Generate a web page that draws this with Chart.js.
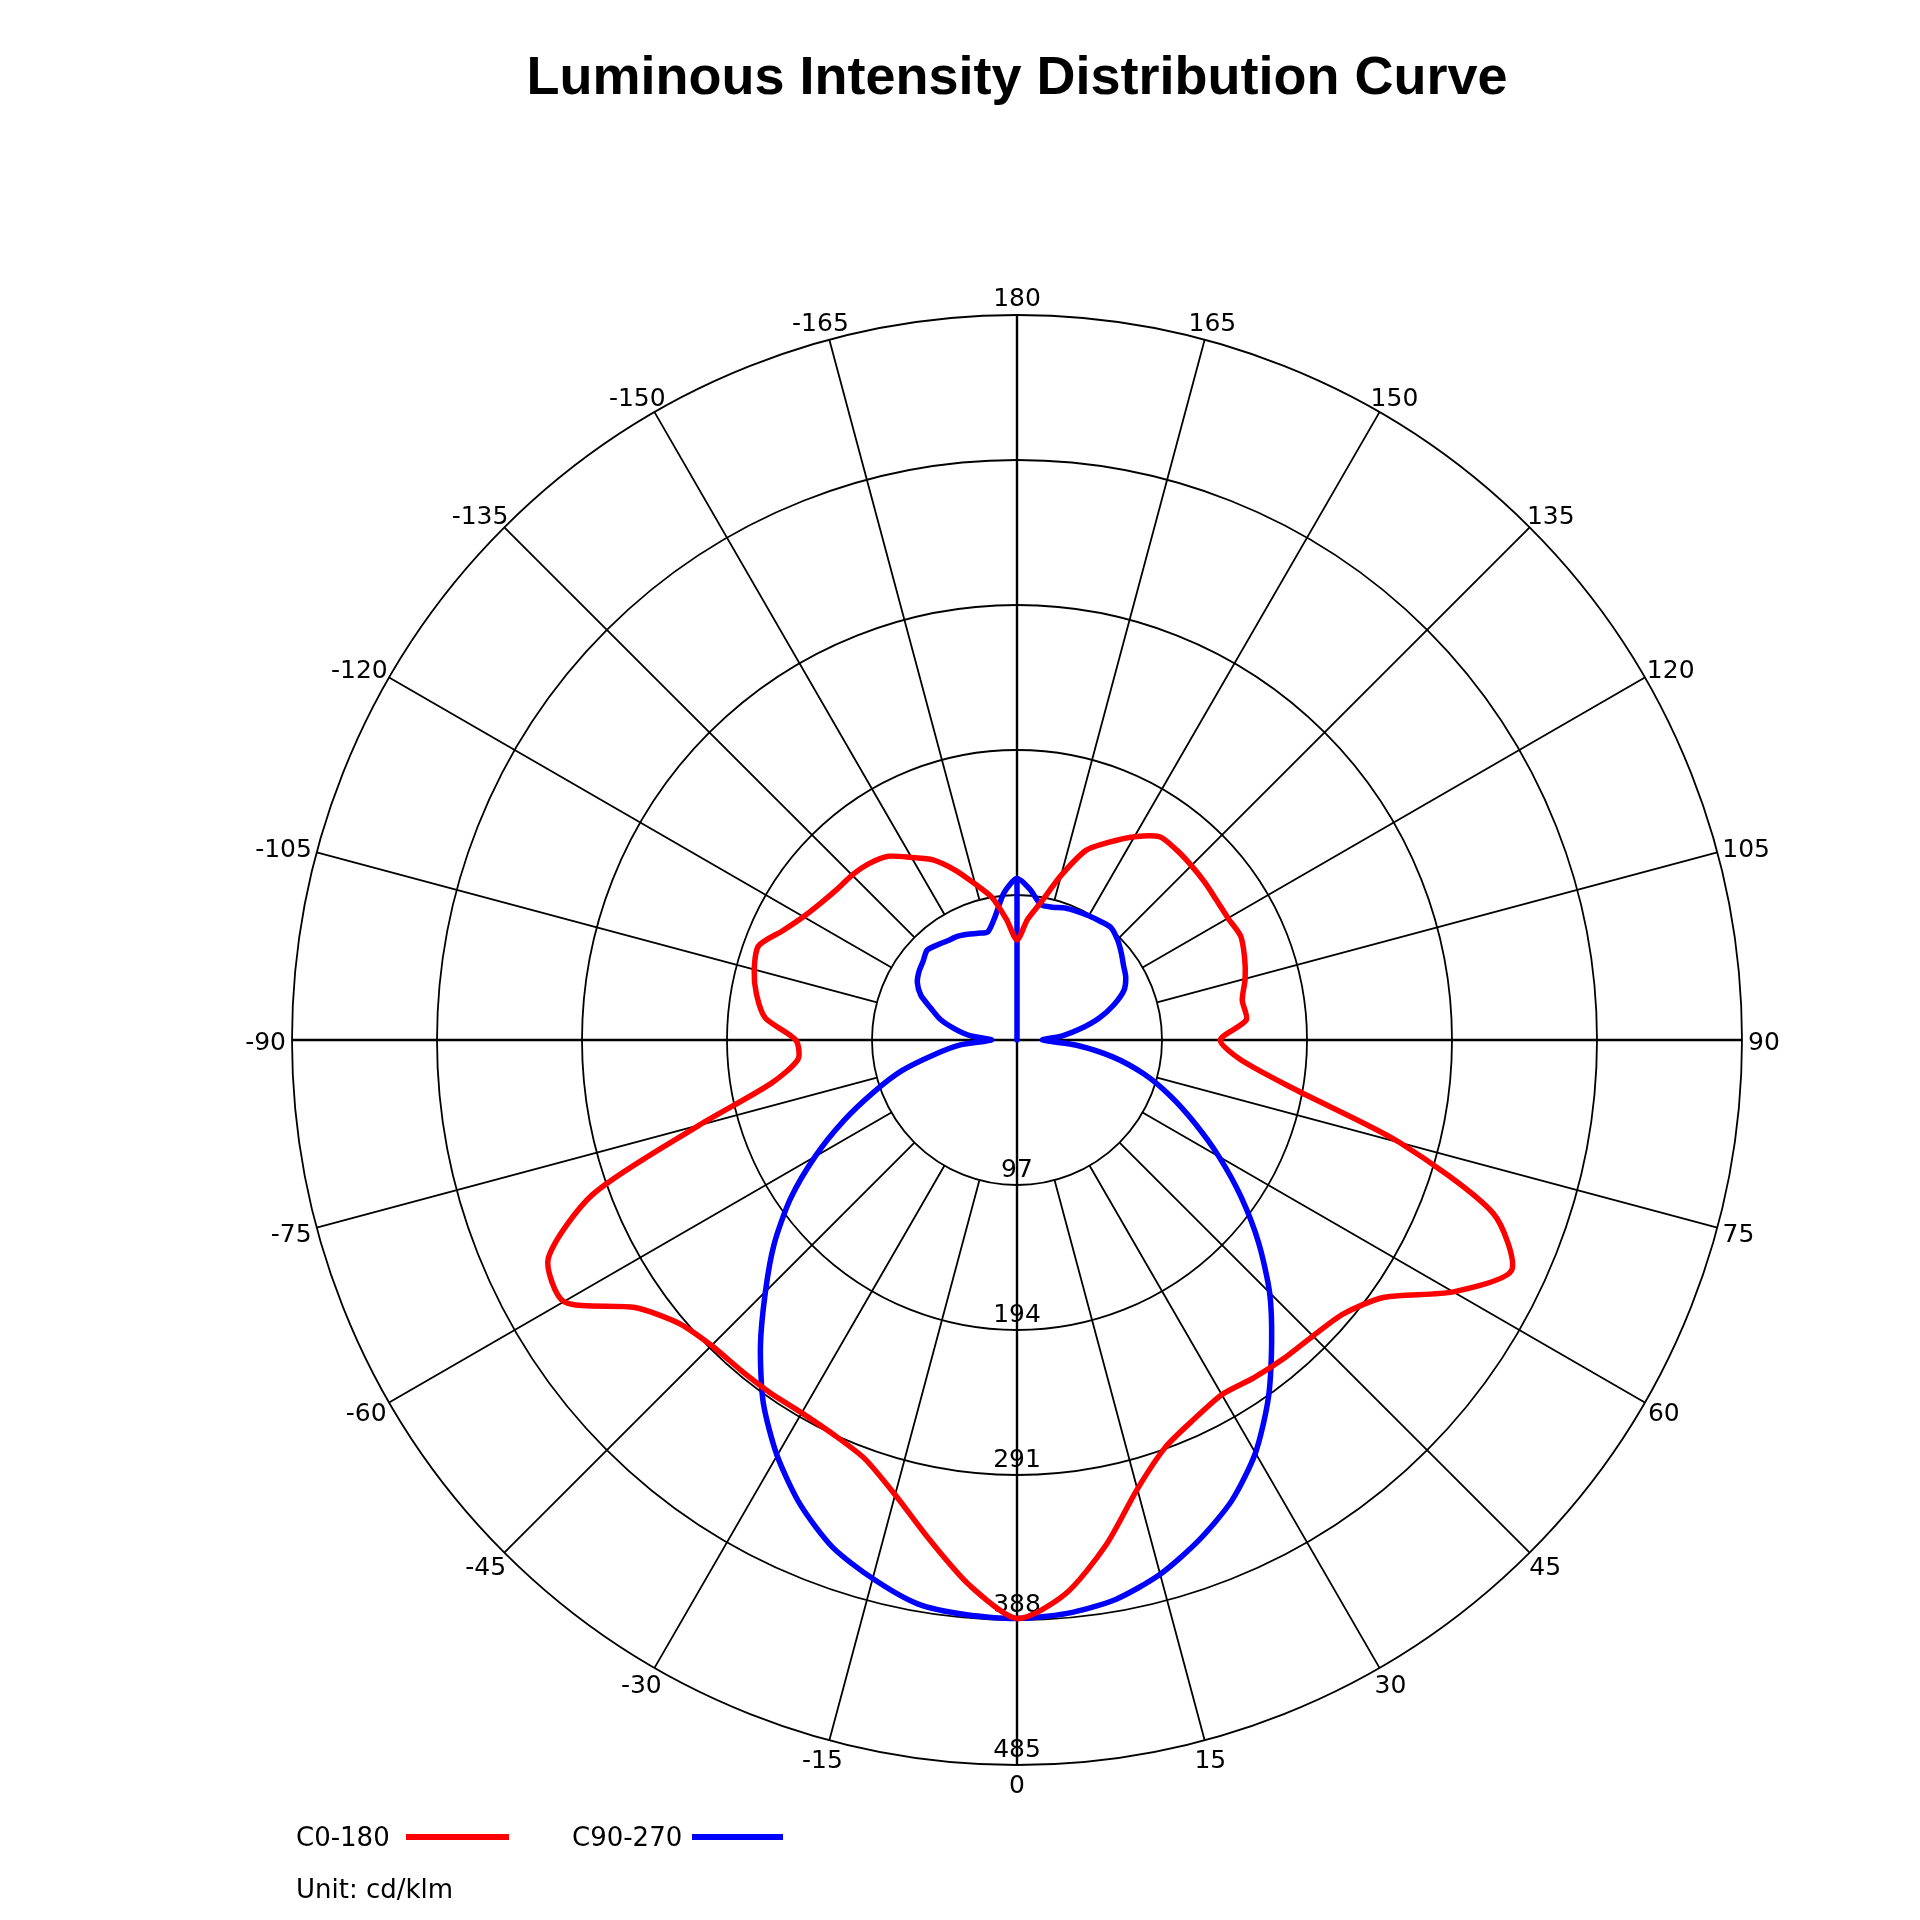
<!DOCTYPE html>
<html>
<head>
<meta charset="utf-8">
<title>Luminous Intensity Distribution Curve</title>
<script src="https://cdn.jsdelivr.net/npm/chart.js@4.4.1/dist/chart.umd.min.js"></script>
<style>
  html, body { margin: 0; padding: 0; background: #fff; }
  #wrap { position: relative; width: 1920px; height: 1920px; }
  #chart { position: absolute; left: 0; top: 0; }
  .legend { position: absolute; font-family: "DejaVu Sans", sans-serif; font-size: 26px; line-height: 30px; color: #000; white-space: nowrap; }
  .swatch { position: absolute; height: 6px; }
</style>
</head>
<body>
<div id="wrap">
  <canvas id="chart" width="1920" height="1920"></canvas>
  <div class="legend" style="left:296px; top:1822px;">C0-180</div>
  <div class="swatch" style="left:406px; top:1834px; width:103px; background:#ff0000;"></div>
  <div class="legend" style="left:572px; top:1822px;">C90-270</div>
  <div class="swatch" style="left:692px; top:1834px; width:91px; background:#0000ff;"></div>
  <div class="legend" style="left:296px; top:1874px;">Unit: cd/klm</div>
</div>
<script>
// gamma angles, clockwise from the top of the diagram
const gammaLabels = [
  180, 175, 170, 165, 160, 155, 150, 145, 140, 135, 130, 125, 120, 115, 110, 105, 100, 95,
  90, 85, 80, 75, 70, 65, 60, 55, 50, 45, 40, 35, 30, 25, 20, 15, 10, 5,
  0, -5, -10, -15, -20, -25, -30, -35, -40, -45, -50, -55, -60, -65, -70, -75, -80, -85,
  -90, -95, -100, -105, -110, -115, -120, -125, -130, -135, -140, -145, -150, -155, -160, -165, -170, -175
];

// intensity in cd/klm
const c0_180 = [
  67, 81, 94, 114, 135, 146, 157, 166, 166, 165, 164, 163, 163, 165, 162, 158, 153, 154,
  136, 150, 188, 265, 339, 365, 337, 300, 285, 280, 278, 276, 274, 280, 290, 311, 343, 372,
  387, 366, 339, 315, 298, 291, 288, 288, 288, 289, 295, 312, 350, 346, 302, 220, 167, 147,
  148, 169, 177, 182, 184, 173, 165, 160, 157, 156, 154, 150, 141, 133, 121, 108, 97, 81
];

const c90_270 = [
  108, 101, 92, 92, 94, 95, 96, 97, 98, 95, 91, 87, 84, 79, 69, 57, 43, 30,
  17, 40, 65, 88, 109, 131, 156, 183, 211, 239, 265, 293, 319, 340, 356, 370, 380, 385,
  387, 386, 383, 373, 361, 343, 321, 296, 267, 238, 212, 185, 156, 128, 102, 80, 56, 38,
  17, 31, 42, 53, 61, 71, 77, 80, 82, 85, 83, 81, 80, 78, 76, 75, 84, 99
];

const ringTicks = [97, 194, 291, 388, 485];

// the C90-270 trace also runs from the centre up to its 180 value
const blueSeam = gammaLabels.map((g, i) => {
  if (i === 0) return c90_270[0];
  if (i === gammaLabels.length - 1) return 0;
  return null;
});

Chart.defaults.font.family = "'DejaVu Sans', sans-serif";
Chart.defaults.color = "#000";

// ring values sit just inside each circle on the 0 axis,
// gamma values sit just outside the outer circle every 15 degrees
const polarText = {
  id: "polarText",
  beforeDatasetsDraw(chart) {
    const r = chart.scales.r;
    const ctx = chart.ctx;
    ctx.save();
    ctx.font = "25px 'DejaVu Sans'";
    ctx.fillStyle = "#000";
    ctx.textAlign = "center";
    ctx.textBaseline = "middle";
    ringTicks.forEach((v) => {
      const d = r.getDistanceFromCenterForValue(v);
      ctx.fillText(String(v), r.xCenter, r.yCenter + d - 15);
    });
    gammaLabels.forEach((g, i) => {
      if (g % 15 !== 0) return;
      const text = String(g);
      const p = r.getPointPosition(i, r.drawingArea + 6);
      const w = ctx.measureText(text).width;
      ctx.fillText(text, p.x + Math.cos(p.angle) * w / 2, p.y + Math.sin(p.angle) * 12.5 + 3);
    });
    ctx.restore();
  },
};

const lineStyle = {
  borderWidth: 5.5,
  pointRadius: 0,
  pointHoverRadius: 0,
  fill: false,
  borderJoinStyle: "round",
  borderCapStyle: "round",
};

new Chart(document.getElementById("chart").getContext("2d"), {
  type: "radar",
  data: {
    labels: gammaLabels,
    datasets: [
      { ...lineStyle, label: "C0-180", data: c0_180, borderColor: "#ff0000", tension: 0.25 },
      { ...lineStyle, label: "C90-270", data: c90_270, borderColor: "#0000ff", tension: 0.25 },
      { ...lineStyle, label: "C90-270 seam", data: blueSeam, borderColor: "#0000ff", tension: 0, spanGaps: false },
    ],
  },
  options: {
    responsive: false,
    animation: false,
    events: [],
    layout: { padding: { top: 0, left: 217, right: 103, bottom: 155 } },
    plugins: {
      legend: { display: false },
      tooltip: { enabled: false },
      title: {
        display: true,
        text: "Luminous Intensity Distribution Curve",
        color: "#000",
        font: { family: "'Liberation Sans', sans-serif", size: 54, weight: "bold" },
        padding: { top: 46.5, bottom: 203.7 },
      },
    },
    scales: {
      r: {
        min: 0,
        max: 485,
        ticks: { stepSize: 97, display: false },
        grid: { circular: true, color: "#000", lineWidth: 1.8 },
        angleLines: {
          color: (c) => (gammaLabels[c.index] % 15 === 0 ? "#000" : "rgba(0,0,0,0)"),
          lineWidth: (c) => {
            const g = gammaLabels[c.index];
            if (g % 90 === 0) return 2.4;
            return g % 15 === 0 ? 1.8 : 0;
          },
          borderDash: (c) => {
            const g = gammaLabels[c.index];
            if (g % 90 === 0) return [];
            return [0, c.scale.getDistanceFromCenterForValue(ringTicks[0]), 2000];
          },
        },
        pointLabels: { display: false },
      },
    },
  },
  plugins: [polarText],
});
</script>
</body>
</html>
